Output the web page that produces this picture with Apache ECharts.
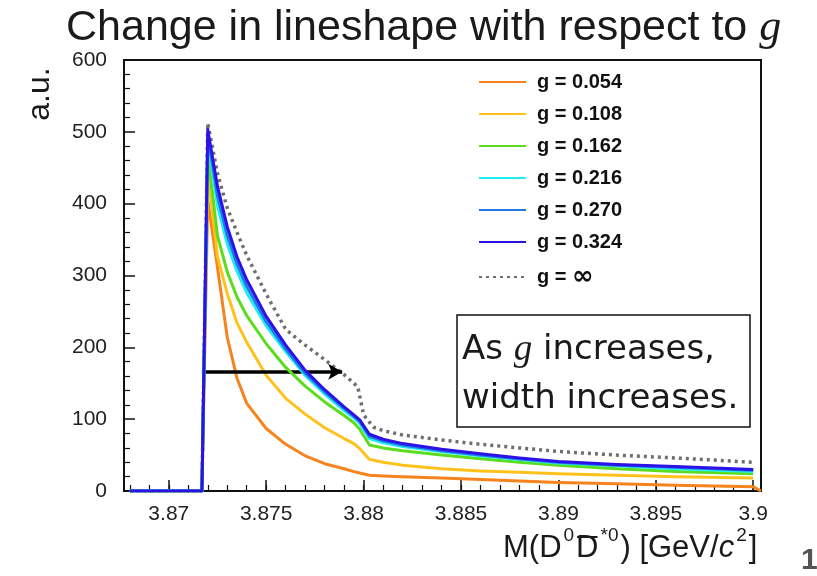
<!DOCTYPE html>
<html>
<head>
<meta charset="utf-8">
<script src="https://cdn.jsdelivr.net/npm/echarts@6/dist/echarts.min.js"></script>
<style>
  html, body { margin: 0; padding: 0; background: #ffffff; }
  #chart { width: 817px; height: 576px; }
</style>
</head>
<body>
<div id="chart"></div>
<script>
// Invariant mass grid (GeV/c^2) shared by the finite-g lineshapes
const massGrid = [3.868, 3.8717, 3.872, 3.8725, 3.873, 3.8735, 3.874, 3.875, 3.876, 3.877, 3.878,
                  3.879, 3.8795, 3.8798, 3.8803, 3.881, 3.882, 3.884, 3.886, 3.888, 3.890,
                  3.893, 3.896, 3.900, 3.9004];

// Lineshape heights (a.u.) for each coupling g
const yG054 = [0, 0, 405, 311, 214, 157, 122, 87, 65, 49, 38, 31, 27, 25, 22, 21, 20, 18, 16, 14, 12, 10, 8, 6, 0];
const yG108 = [0, 0, 445, 326, 275, 234, 207, 161, 129, 107, 88, 73, 66, 59, 44, 40, 36, 31, 28, 26, 24, 22, 20, 18, null];
const yG162 = [0, 0, 470, 355, 305, 270, 244, 205, 172, 146, 124, 105, 95, 86, 64, 60, 56, 50, 45, 40, 36, 31, 27, 24, null];
const yG216 = [0, 0, 490, 397, 344, 306, 276, 230, 194, 161, 135, 112, 102, 94, 73, 67, 62, 55, 49, 44, 39, 35, 31, 27, null];
const yG270 = [0, 0, 496, 411, 356, 316, 285, 236, 198, 164, 138, 115, 104, 97, 76, 70, 64, 56, 50, 45, 40, 36, 33, 29, null];
const yG324 = [0, 0, 503, 424, 368, 326, 294, 243, 203, 168, 141, 117, 106, 99, 79, 72, 66, 58, 52, 46, 41, 37, 34, 30, null];

// g = infinity limit, sampled on its own grid
const massInf = [3.868, 3.8717, 3.872, 3.8725, 3.873, 3.8735, 3.874, 3.875, 3.876, 3.877, 3.878,
                 3.879, 3.8795, 3.8797, 3.8800, 3.8805, 3.881, 3.882, 3.884, 3.886, 3.888,
                 3.890, 3.893, 3.896, 3.900];
const yInf = [0, 0, 512, 442, 394, 360, 328, 274, 225, 203, 183, 162, 150, 145, 106, 89, 84, 78, 71, 65, 60, 55, 50, 46, 40];

const seriesNames = ['g = 0.054', 'g = 0.108', 'g = 0.162', 'g = 0.216', 'g = 0.270', 'g = 0.324', 'g = \u221E'];
const seriesColors = ['#f5841f', '#ffc21c', '#5cdc1e', '#1eeef0', '#1e78e6', '#2c12e6', '#6f6f6f'];

// Axis tick positions
const xTickValues = [3.87, 3.875, 3.88, 3.885, 3.89, 3.895, 3.9];
const xMinorTickValues = [3.868, 3.869, 3.870, 3.871, 3.872, 3.873, 3.874, 3.875, 3.876, 3.877, 3.878,
                          3.879, 3.880, 3.881, 3.882, 3.883, 3.884, 3.885, 3.886, 3.887, 3.888,
                          3.889, 3.890, 3.891, 3.892, 3.893, 3.894, 3.895, 3.896, 3.897, 3.898, 3.899, 3.900];

// Arrow showing the widening, in data coordinates
const arrowStart = [3.8717, 166];
const arrowEnd = [3.8789, 166];

const pairs = (xs, ys) => xs.map((x, i) => [x, ys[i]]);
const finiteG = [yG054, yG108, yG162, yG216, yG270, yG324];

const chart = echarts.init(document.getElementById('chart'), null, { renderer: 'canvas' });

const X_MIN = 3.8677, X_MAX = 3.9004;
const sans = 'Liberation Sans';

const lineSeries = [];
// dotted limit curve goes underneath the solid curves
lineSeries.push({
  name: seriesNames[6], type: 'line', data: pairs(massInf, yInf),
  symbol: 'none', xAxisIndex: 0, yAxisIndex: 0, z: 2,
  lineStyle: { color: seriesColors[6], width: 3.5, type: [3, 4] },
  itemStyle: { color: seriesColors[6] }
});
finiteG.forEach((ys, i) => {
  const s = {
    name: seriesNames[i], type: 'line', data: pairs(massGrid, ys),
    symbol: 'none', connectNulls: false, xAxisIndex: 0, yAxisIndex: 0, z: 3 + i,
    lineStyle: { color: seriesColors[i], width: 3, join: 'round' },
    itemStyle: { color: seriesColors[i] }
  };
  if (i === 5) {
    s.markLine = {
      silent: true, animation: false,
      symbol: ['none', 'arrow'], symbolSize: [12, 14],
      label: { show: false },
      lineStyle: { color: '#000', width: 3.5, type: 'solid' },
      emphasis: { disabled: true },
      data: [[{ coord: arrowStart }, { coord: arrowEnd }]]
    };
  }
  lineSeries.push(s);
});

// x-axis title: place the bar over the second D using measured text widths
const titleFont = 31, supFont = 19;
const measureCtx = document.createElement('canvas').getContext('2d');
const textWidth = (t, size, style) => { measureCtx.font = (style || '') + ' ' + size + 'px "' + sans + '"'; return measureCtx.measureText(t).width; };
const supPad = 2;
const barX1 = textWidth('M(D', titleFont) + textWidth('0', supFont) + 2 * supPad;
const barX2 = barX1 + textWidth('D', titleFont);

const option = {
  backgroundColor: '#ffffff',
  animation: false,
  grid: { left: 124, top: 60, right: 56, bottom: 85, show: true, borderColor: '#111', borderWidth: 2, containLabel: false },
  legend: {
    data: seriesNames,
    orient: 'vertical', left: 473, top: 67,
    itemWidth: 47, itemHeight: 14, itemGap: 12,
    itemStyle: { opacity: 0 },
    formatter: name => name.indexOf('\u221E') >= 0 ? '{b|g = }{inf|\u221E}' : '{b|' + name + '}',
    textStyle: {
      fontFamily: sans, fontWeight: 'bold', fontSize: 20, color: '#111', padding: [0, 0, 0, 6],
      rich: {
        b: { fontFamily: sans, fontWeight: 'bold', fontSize: 20, color: '#111', height: 20 },
        inf: { fontFamily: 'DejaVu Sans', fontWeight: 'bold', fontSize: 26, color: '#111', height: 20 }
      }
    },
    selectedMode: false
  },
  xAxis: [
    {
      type: 'value', min: X_MIN, max: X_MAX, position: 'bottom',
      axisLine: { show: true, onZero: false, lineStyle: { color: '#111', width: 2 } },
      axisTick: { show: true, inside: true, length: 11, customValues: xTickValues, lineStyle: { color: '#111', width: 1.5 } },
      axisLabel: {
        show: true, customValues: xTickValues, margin: 13,
        fontFamily: sans, fontSize: 21, color: '#222',
        formatter: v => String(+(+v).toFixed(3))
      },
      splitLine: { show: false }
    },
    {
      type: 'value', min: X_MIN, max: X_MAX, position: 'bottom',
      axisLine: { show: false },
      axisTick: { show: true, inside: true, length: 6, customValues: xMinorTickValues, lineStyle: { color: '#111', width: 1.2 } },
      axisLabel: { show: false },
      splitLine: { show: false }
    }
  ],
  yAxis: {
    type: 'value', min: 0, max: 600, interval: 100,
    axisLine: { show: true, lineStyle: { color: '#111', width: 2 } },
    axisTick: { show: true, inside: true, length: 11, lineStyle: { color: '#111', width: 1.5 } },
    minorTick: { show: true, splitNumber: 5, length: 6, lineStyle: { color: '#111', width: 1.2 } },
    axisLabel: { margin: 17, fontFamily: sans, fontSize: 21, color: '#222' },
    splitLine: { show: false }
  },
  series: lineSeries,
  graphic: [
    {
      type: 'text', left: 66, top: 6,
      style: {
        text: '{n|Change in lineshape with respect to }{g|g}',
        rich: {
          n: { fontFamily: sans, fontSize: 43, fill: '#1a1a1a', fontWeight: 'normal' },
          g: { fontFamily: 'Liberation Serif', fontStyle: 'italic', fontSize: 44, fill: '#1a1a1a' }
        }
      }
    },
    {
      type: 'text', x: 40, y: 94, rotation: Math.PI / 2,
      style: { text: 'a.u.', fontFamily: sans, fontSize: 32, fill: '#1a1a1a', align: 'center', verticalAlign: 'middle' }
    },
    {
      type: 'group', left: 503, top: 526,
      children: [
        {
          type: 'text', x: 0, y: 0,
          style: {
            text: '{n|M(D}{s|0}{n|D}{s|*0}{n|) [GeV/}{c|c}{s|2}{n|]}',
            rich: {
              n: { fontFamily: sans, fontSize: titleFont, fill: '#1a1a1a', lineHeight: 38, verticalAlign: 'bottom' },
              c: { fontFamily: sans, fontStyle: 'italic', fontSize: titleFont, fill: '#1a1a1a', lineHeight: 38, verticalAlign: 'bottom' },
              s: { fontFamily: sans, fontSize: supFont, fill: '#1a1a1a', lineHeight: 38, verticalAlign: 'top', padding: [0, supPad, 0, supPad] }
            }
          }
        },
        { type: 'line', shape: { x1: barX1 + 1, y1: 11, x2: barX2 - 1, y2: 11 }, style: { stroke: '#1a1a1a', lineWidth: 2 } }
      ]
    },
    {
      type: 'rect', shape: { x: 457, y: 315, width: 293, height: 112 },
      style: { fill: '#ffffff', stroke: '#111', lineWidth: 1.5 }, z: 10
    },
    {
      type: 'text', left: 462, top: 332, z: 11,
      style: {
        text: '{n|As }{g|g}{n| increases,}\n{n|width increases.}',
        rich: {
          n: { fontFamily: 'DejaVu Sans', fontSize: 34, fill: '#1a1a1a', lineHeight: 49 },
          g: { fontFamily: 'Liberation Serif', fontStyle: 'italic', fontSize: 37, fill: '#1a1a1a', lineHeight: 49 }
        }
      }
    },
    {
      type: 'text', left: 801, top: 546,
      style: { text: '1', fontFamily: sans, fontSize: 30, fontWeight: 'bold', fill: '#555' }
    }
  ]
};

chart.setOption(option);
</script>
</body>
</html>
